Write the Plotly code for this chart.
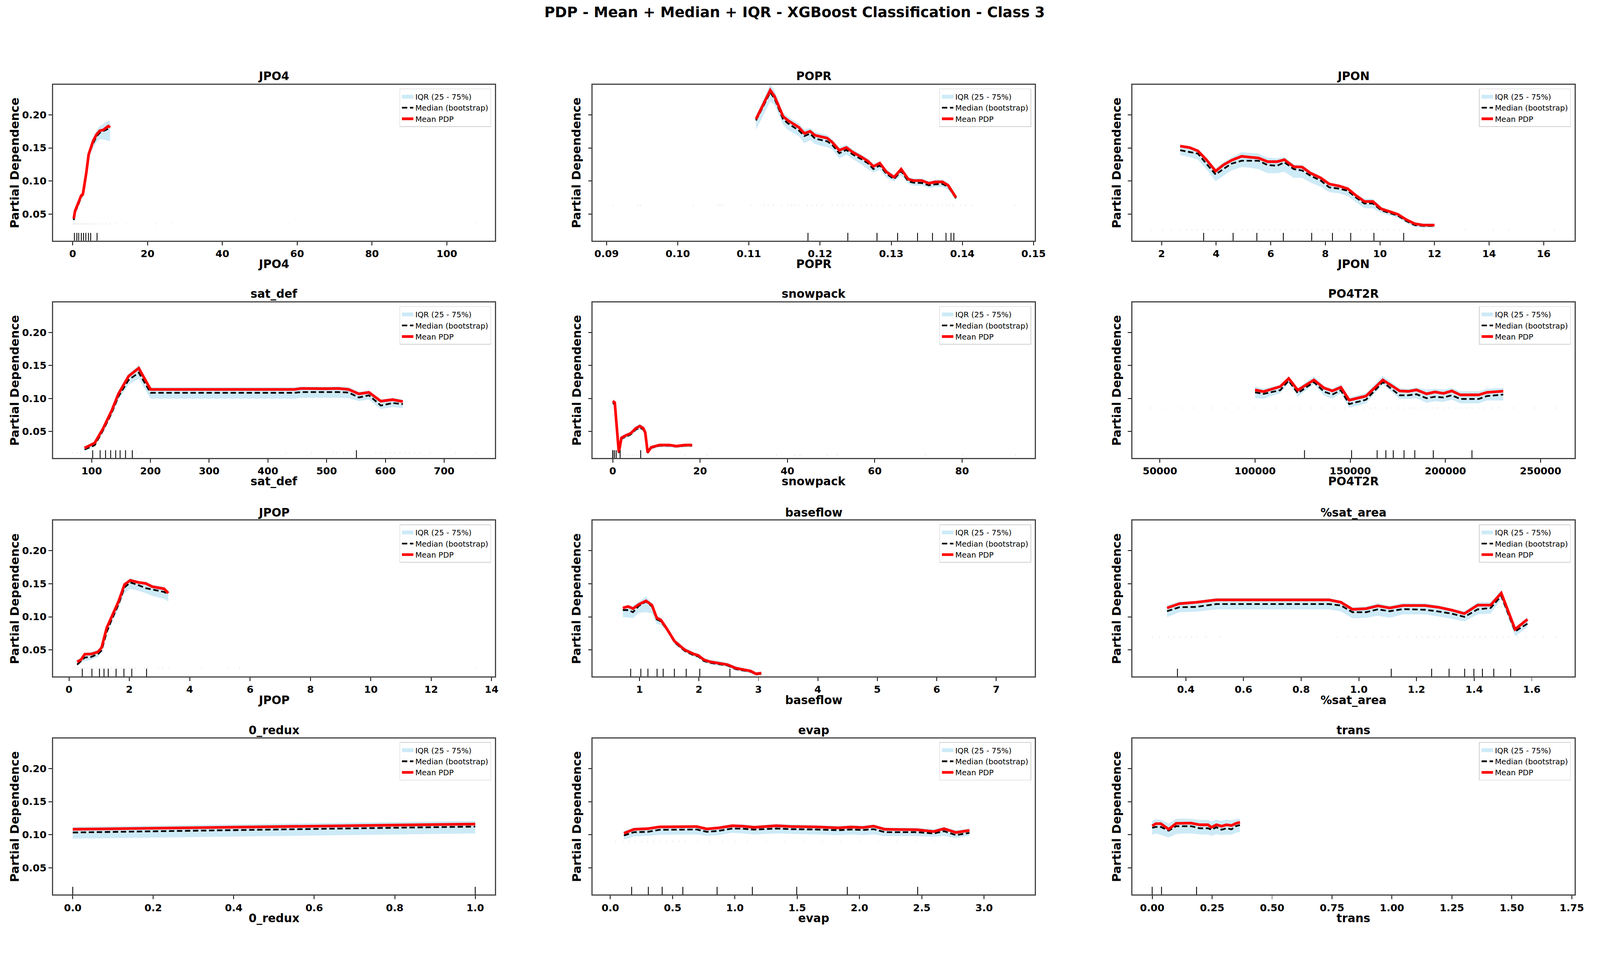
import plotly.graph_objects as go

# ---------------- data ----------------
FEATURES = ["JPO4", "POPR", "JPON", "sat_def", "snowpack", "PO4T2R",
            "JPOP", "baseflow", "%sat_area", "0_redux", "evap", "trans"]

Y_TICKS = [0.05, 0.10, 0.15, 0.20]
Y_TICK_LABELS = ["0.05", "0.10", "0.15", "0.20"]

# JPO4
JPO4_x = [0.27, 0.63, 1.36, 2.26, 2.71, 3.2, 3.62, 4.25, 4.8, 5.43, 6.33, 7.24, 8.14, 8.78, 9.5, 10.0]
JPO4_mean = [0.043, 0.055, 0.065, 0.078, 0.080, 0.095, 0.112, 0.140, 0.151, 0.160, 0.170, 0.176, 0.177, 0.180, 0.183, 0.181]
JPO4_median = [0.041, 0.053, 0.062, 0.076, 0.079, 0.093, 0.110, 0.138, 0.149, 0.157, 0.167, 0.173, 0.175, 0.177, 0.179, 0.178]
JPO4_q25 = [0.038, 0.050, 0.059, 0.073, 0.076, 0.090, 0.106, 0.132, 0.142, 0.149, 0.158, 0.163, 0.163, 0.162, 0.161, 0.160]
JPO4_q75 = [0.046, 0.058, 0.068, 0.081, 0.084, 0.098, 0.115, 0.145, 0.157, 0.166, 0.176, 0.183, 0.186, 0.189, 0.191, 0.190]
JPO4_deciles = [0.45, 1.1, 1.6, 2.3, 2.9, 3.5, 4.2, 4.8, 6.5]
JPO4_rug = [0.1, 0.3, 0.5, 0.8, 1.0, 1.3, 1.6, 1.9, 2.2, 2.5, 2.9, 3.3, 3.7, 4.1, 4.6, 5.1, 5.6, 6.2, 6.9, 7.7,
            8.8, 9.95, 11.8, 14.2, 22.2, 26.4, 57.6, 107.6]
JPO4_rug_y = 0.0352
JPO4_ticks = [0, 20, 40, 60, 80, 100]
JPO4_ticklabels = ["0", "20", "40", "60", "80", "100"]

# POPR
POPR_x = [0.1110, 0.1130, 0.1136, 0.1148, 0.1155, 0.1170, 0.1178, 0.1186, 0.1193, 0.1202, 0.1210, 0.1217, 0.1227,
          0.1237, 0.1246, 0.1258, 0.1267, 0.1275, 0.1284, 0.1293, 0.1304, 0.1314, 0.1324, 0.1331, 0.1343, 0.1353,
          0.1362, 0.1372, 0.1380, 0.1391]
POPR_mean = [0.1935, 0.2373, 0.2280, 0.1976, 0.1914, 0.1812, 0.1720, 0.1751, 0.1690, 0.1669, 0.1649, 0.1588, 0.1465,
             0.1506, 0.1435, 0.1363, 0.1302, 0.1220, 0.1271, 0.1139, 0.1057, 0.1180, 0.1027, 0.1006, 0.1006, 0.0965,
             0.0986, 0.0986, 0.0935, 0.0751]
POPR_median = [0.1915, 0.2340, 0.2245, 0.1935, 0.1870, 0.1765, 0.1680, 0.1715, 0.1640, 0.1620, 0.1600, 0.1545, 0.1420,
               0.1470, 0.1400, 0.1330, 0.1270, 0.1180, 0.1235, 0.1110, 0.1030, 0.1150, 0.0995, 0.0975, 0.0970, 0.0935,
               0.0950, 0.0955, 0.0915, 0.0740]
POPR_q25 = [0.1775, 0.2200, 0.2150, 0.1850, 0.1770, 0.1680, 0.1570, 0.1620, 0.1560, 0.1530, 0.1510, 0.1480, 0.1340,
            0.1400, 0.1330, 0.1250, 0.1180, 0.1130, 0.1170, 0.1050, 0.0990, 0.1080, 0.0960, 0.0930, 0.0930, 0.0890,
            0.0910, 0.0910, 0.0870, 0.0700]
POPR_q75 = [0.1990, 0.2460, 0.2370, 0.2030, 0.1970, 0.1870, 0.1780, 0.1800, 0.1740, 0.1720, 0.1700, 0.1630, 0.1510,
            0.1550, 0.1480, 0.1400, 0.1340, 0.1260, 0.1300, 0.1175, 0.1090, 0.1210, 0.1060, 0.1040, 0.1040, 0.1000,
            0.1020, 0.1020, 0.0970, 0.0790]
POPR_deciles = [0.1183, 0.1239, 0.1280, 0.1309, 0.1337, 0.1358, 0.1377, 0.1384, 0.1388]
POPR_rug = [0.0909, 0.0944, 0.0948, 0.1022, 0.1058, 0.1062, 0.1104, 0.1121, 0.1127, 0.1134, 0.1146, 0.1155, 0.1160,
            0.1165, 0.1170, 0.1182, 0.1188, 0.1195, 0.1203, 0.1217, 0.1225, 0.1232, 0.1240, 0.1246, 0.1258, 0.1265,
            0.1272, 0.1280, 0.1288, 0.1298, 0.1312, 0.1320, 0.1328, 0.1335, 0.1342, 0.1350, 0.1358, 0.1365, 0.1372,
            0.1378, 0.1382, 0.1386, 0.1388, 0.1398, 0.1405, 0.1414, 0.1474]
POPR_rug_y = 0.0633
POPR_ticks = [0.09, 0.10, 0.11, 0.12, 0.13, 0.14, 0.15]
POPR_ticklabels = ["0.09", "0.10", "0.11", "0.12", "0.13", "0.14", "0.15"]

# JPON
JPON_x = [2.68, 3.02, 3.33, 3.64, 3.98, 4.26, 4.56, 4.93, 5.24, 5.55, 5.88, 6.23, 6.50, 6.84, 7.15, 7.46, 7.83,
          8.14, 8.51, 8.82, 9.12, 9.43, 9.74, 10.05, 10.36, 10.66, 10.97, 11.28, 11.59, 12.0]
JPON_mean = [0.1527, 0.1506, 0.1455, 0.1322, 0.1149, 0.1241, 0.1312, 0.1373, 0.1359, 0.1347, 0.1292, 0.1292, 0.1322,
             0.1216, 0.1210, 0.1118, 0.1047, 0.0955, 0.0924, 0.0884, 0.0782, 0.0690, 0.0690, 0.0578, 0.0537, 0.0496,
             0.0414, 0.0353, 0.0333, 0.0333]
JPON_median = [0.1465, 0.1440, 0.1414, 0.1261, 0.1098, 0.1180, 0.1261, 0.1306, 0.1306, 0.1306, 0.1241, 0.1231, 0.1282,
               0.1180, 0.1159, 0.1078, 0.1006, 0.0904, 0.0884, 0.0853, 0.0751, 0.0659, 0.0659, 0.0557, 0.0516, 0.0476,
               0.0394, 0.0333, 0.0322, 0.0322]
JPON_q25 = [0.1394, 0.1363, 0.1322, 0.1180, 0.0996, 0.1078, 0.1159, 0.1210, 0.1200, 0.1180, 0.1118, 0.1118, 0.1139,
            0.1047, 0.1047, 0.0976, 0.0914, 0.0833, 0.0812, 0.0771, 0.0680, 0.0588, 0.0588, 0.0516, 0.0476, 0.0445,
            0.0363, 0.0302, 0.0292, 0.0298]
JPON_q75 = [0.1547, 0.1527, 0.1476, 0.1353, 0.1190, 0.1282, 0.1353, 0.1435, 0.1424, 0.1414, 0.1353, 0.1343, 0.1363,
            0.1251, 0.1241, 0.1149, 0.1067, 0.0976, 0.0945, 0.0904, 0.0802, 0.0731, 0.0731, 0.0608, 0.0557, 0.0506,
            0.0435, 0.0373, 0.0359, 0.0359]
JPON_deciles = [3.54, 4.62, 5.49, 6.46, 7.50, 8.26, 8.93, 9.78, 10.87]
JPON_rug = [1.64, 2.04, 2.35, 2.65, 2.92, 3.1, 3.3, 3.5, 3.7, 3.9, 4.1, 4.26, 4.75, 4.95, 5.15, 5.35, 5.55, 5.75,
            5.95, 6.15, 6.35, 6.55, 6.8, 7.0, 7.3, 7.5, 7.7, 7.9, 8.1, 8.3, 8.5, 8.7, 8.9, 9.1, 9.3, 9.5, 9.7,
            9.9, 10.1, 10.3, 10.5, 10.73, 11.34, 11.6, 11.83, 13.13, 14.15, 14.73, 16.39]
JPON_rug_y = 0.0261
JPON_ticks = [2, 4, 6, 8, 10, 12, 14, 16]
JPON_ticklabels = ["2", "4", "6", "8", "10", "12", "14", "16"]

# sat_def
SATDEF_x = [87.9, 105.2, 119.6, 134.0, 145.5, 162.8, 180.1, 200.3, 445.2, 456.8, 497.1, 520.2, 537.5, 554.8,
            572.0, 592.2, 612.4, 629.7]
SATDEF_mean = [0.0249, 0.0327, 0.0549, 0.0815, 0.1070, 0.1337, 0.1459, 0.1137, 0.1137, 0.1152, 0.1148, 0.1152,
               0.1137, 0.1070, 0.1093, 0.0959, 0.0982, 0.0953]
SATDEF_median = [0.0227, 0.0294, 0.0520, 0.0780, 0.1030, 0.1280, 0.1392, 0.1086, 0.1086, 0.1097, 0.1097, 0.1097,
                 0.1090, 0.1015, 0.1048, 0.0893, 0.0931, 0.0915]
SATDEF_q25 = [0.0205, 0.0270, 0.0490, 0.0740, 0.0980, 0.1210, 0.1300, 0.0997, 0.0997, 0.1010, 0.1010, 0.1010,
              0.1005, 0.0960, 0.0985, 0.0840, 0.0870, 0.0855]
SATDEF_q75 = [0.0270, 0.0345, 0.0570, 0.0840, 0.1100, 0.1375, 0.1510, 0.1170, 0.1170, 0.1180, 0.1180, 0.1185,
              0.1175, 0.1100, 0.1120, 0.0985, 0.1010, 0.0985]
SATDEF_deciles = [101.7, 114.4, 123.6, 132.3, 140.9, 148.4, 157.6, 169.2, 550.7]
SATDEF_rug = [67.7, 75, 82, 90, 98, 105, 112, 120, 128, 136, 144, 152, 160, 168, 176, 185.9, 430.8, 474.1, 511.5,
              517.3, 528.8, 537, 546.1, 583.6, 592, 600, 608, 616, 625, 633, 641, 650, 658.5, 675.8, 719, 753.6]
SATDEF_rug_y = 0.0176
SATDEF_ticks = [100, 200, 300, 400, 500, 600, 700]
SATDEF_ticklabels = ["100", "200", "300", "400", "500", "600", "700"]

# snowpack
SNOW_x = [0.0, 0.47, 1.4, 2.0, 2.95, 4.1, 5.3, 6.2, 7.0, 7.45, 8.0, 8.8, 10.7, 13.0, 14.6, 16.5, 18.2]
SNOW_mean = [0.0960, 0.0937, 0.0183, 0.0405, 0.0438, 0.0471, 0.0549, 0.0582, 0.0549, 0.0482, 0.0183, 0.0260,
             0.0294, 0.0294, 0.0278, 0.0294, 0.0294]
SNOW_median = [0.0930, 0.0915, 0.0175, 0.0390, 0.0420, 0.0455, 0.0530, 0.0560, 0.0530, 0.0470, 0.0175, 0.0250,
               0.0285, 0.0285, 0.0270, 0.0285, 0.0285]
SNOW_q25 = [0.0890, 0.0880, 0.0160, 0.0360, 0.0395, 0.0430, 0.0500, 0.0530, 0.0505, 0.0450, 0.0160, 0.0235,
            0.0262, 0.0262, 0.0250, 0.0262, 0.0262]
SNOW_q75 = [0.0990, 0.0975, 0.0200, 0.0430, 0.0465, 0.0500, 0.0580, 0.0620, 0.0580, 0.0505, 0.0200, 0.0285,
            0.0315, 0.0315, 0.0300, 0.0315, 0.0318]
SNOW_deciles = [0.0, 0.05, 0.4, 0.8, 1.7, 6.4]
SNOW_rug = [0, 0.5, 1, 1.5, 2, 2.5, 3, 3.5, 4, 4.5, 5, 5.5, 6, 6.8, 16.5, 21.6, 37.5, 41.7, 42.9, 49.1, 51.4,
            71.6, 80.1, 92.2]
SNOW_rug_y = 0.0143
SNOW_ticks = [0, 20, 40, 60, 80]
SNOW_ticklabels = ["0", "20", "40", "60", "80"]

# PO4T2R
PO4_x = [100000, 104420, 113250, 117670, 122440, 130920, 136220, 140640, 145060, 149470, 158300, 167140, 175970,
         180390, 184810, 190110, 194530, 198950, 203370, 207790, 217490, 221910, 230390]
PO4_mean = [0.1130, 0.1104, 0.1181, 0.1303, 0.1126, 0.1281, 0.1159, 0.1115, 0.1170, 0.0975, 0.1037, 0.1281, 0.1115,
            0.1108, 0.1130, 0.1070, 0.1099, 0.1077, 0.1115, 0.1055, 0.1055, 0.1093, 0.1110]
PO4_median = [0.1093, 0.1070, 0.1126, 0.1270, 0.1081, 0.1248, 0.1104, 0.1059, 0.1126, 0.0915, 0.0982, 0.1248, 0.1048,
              0.1048, 0.1064, 0.1004, 0.1026, 0.1015, 0.1048, 0.0993, 0.0993, 0.1037, 0.1059]
PO4_q25 = [0.1004, 0.0997, 0.1081, 0.1237, 0.1026, 0.1215, 0.1048, 0.0993, 0.1081, 0.0860, 0.0926, 0.1215, 0.0993,
           0.0993, 0.1004, 0.0937, 0.0959, 0.0948, 0.0982, 0.0926, 0.0926, 0.0970, 0.0970]
PO4_q75 = [0.1181, 0.1148, 0.1203, 0.1337, 0.1159, 0.1337, 0.1188, 0.1148, 0.1215, 0.1015, 0.1081, 0.1343, 0.1152,
           0.1148, 0.1166, 0.1137, 0.1148, 0.1137, 0.1159, 0.1108, 0.1108, 0.1148, 0.1159]
PO4_deciles = [125972, 150706, 164134, 168728, 172615, 178269, 183922, 193640, 213958]
PO4_rug = [45230, 53000, 61500, 68000, 77000, 84500, 91000, 99500, 106000, 111000, 118500, 124000, 129500, 135000,
           141500, 147000, 153500, 157400, 160500, 163000, 166500, 169000, 171500, 175000, 178000, 181500, 184000,
           187500, 190000, 193500, 196000, 199500, 202000, 205500, 208000, 211500, 214000, 217500, 220000, 224500,
           228100, 236000, 247000, 258130]
PO4_rug_y = 0.0855
PO4_ticks = [50000, 100000, 150000, 200000, 250000]
PO4_ticklabels = ["50000", "100000", "150000", "200000", "250000"]

# JPOP
JPOP_x = [0.27, 0.40, 0.52, 0.74, 0.96, 1.08, 1.25, 1.41, 1.64, 1.84, 2.03, 2.31, 2.54, 2.76, 3.04, 3.15, 3.29]
JPOP_mean = [0.0320, 0.0352, 0.0434, 0.0438, 0.0470, 0.0534, 0.0834, 0.0995, 0.1231, 0.1488, 0.1552, 0.1520,
             0.1505, 0.1456, 0.1439, 0.1424, 0.1359]
JPOP_median = [0.0277, 0.0330, 0.0384, 0.0395, 0.0438, 0.0491, 0.0770, 0.0952, 0.1188, 0.1445, 0.1520, 0.1477,
               0.1434, 0.1413, 0.1391, 0.1376, 0.1342]
JPOP_q25 = [0.0256, 0.0309, 0.0331, 0.0352, 0.0395, 0.0459, 0.0738, 0.0909, 0.1124, 0.1359, 0.1424, 0.1391,
            0.1359, 0.1316, 0.1284, 0.1274, 0.1231]
JPOP_q75 = [0.0352, 0.0384, 0.0459, 0.0470, 0.0502, 0.0566, 0.0877, 0.1038, 0.1274, 0.1520, 0.1584, 0.1541,
            0.1531, 0.1484, 0.1466, 0.1449, 0.1391]
JPOP_deciles = [0.44, 0.76, 1.01, 1.16, 1.30, 1.56, 1.82, 2.08, 2.57]
JPOP_rug = [0.12, 0.2, 0.3, 0.4, 0.5, 0.6, 0.7, 0.8, 0.9, 1.0, 1.1, 1.2, 1.3, 1.4, 1.5, 1.6, 1.7, 1.8, 1.9, 2.0,
            2.1, 2.2, 2.5, 2.6, 2.95, 3.1, 3.32, 4.39, 5.28, 5.65, 13.47]
JPOP_rug_y = 0.0228
JPOP_ticks = [0, 2, 4, 6, 8, 10, 12, 14]
JPOP_ticklabels = ["0", "2", "4", "6", "8", "10", "12", "14"]

# baseflow
BASE_x = [0.72, 0.81, 0.89, 0.99, 1.11, 1.21, 1.29, 1.36, 1.45, 1.59, 1.76, 1.91, 1.99, 2.08, 2.19, 2.36, 2.48,
          2.62, 2.73, 2.87, 2.96, 3.05]
BASE_mean = [0.1134, 0.1156, 0.1124, 0.1188, 0.1241, 0.1177, 0.0984, 0.0952, 0.0834, 0.0631, 0.0502, 0.0438,
             0.0416, 0.0352, 0.0320, 0.0299, 0.0277, 0.0224, 0.0202, 0.0181, 0.0138, 0.0149]
BASE_median = [0.1102, 0.1102, 0.1070, 0.1166, 0.1231, 0.1156, 0.0963, 0.0931, 0.0824, 0.0615, 0.0485, 0.0420,
               0.0400, 0.0335, 0.0305, 0.0285, 0.0265, 0.0210, 0.0190, 0.0170, 0.0128, 0.0140]
BASE_q25 = [0.0995, 0.0990, 0.0980, 0.1060, 0.1070, 0.1050, 0.0890, 0.0880, 0.0790, 0.0590, 0.0460, 0.0400,
            0.0375, 0.0310, 0.0280, 0.0262, 0.0245, 0.0190, 0.0170, 0.0150, 0.0110, 0.0120]
BASE_q75 = [0.1160, 0.1180, 0.1165, 0.1230, 0.1306, 0.1210, 0.1020, 0.0990, 0.0870, 0.0665, 0.0535, 0.0470,
            0.0445, 0.0380, 0.0350, 0.0330, 0.0305, 0.0255, 0.0230, 0.0205, 0.0165, 0.0175]
BASE_deciles = [0.852, 1.023, 1.142, 1.296, 1.399, 1.587, 1.786, 2.014, 2.521]
BASE_rug = []
BASE_rug_y = 0.01
BASE_ticks = [1, 2, 3, 4, 5, 6, 7]
BASE_ticklabels = ["1", "2", "3", "4", "5", "6", "7"]

# %sat_area
SATA_x = [0.335, 0.378, 0.436, 0.506, 0.897, 0.938, 0.978, 1.025, 1.066, 1.107, 1.153, 1.229, 1.276, 1.322, 1.366,
          1.412, 1.457, 1.494, 1.542, 1.585]
SATA_mean = [0.1134, 0.1199, 0.1220, 0.1257, 0.1257, 0.1220, 0.1113, 0.1124, 0.1166, 0.1134, 0.1171, 0.1171,
             0.1145, 0.1102, 0.1049, 0.1177, 0.1177, 0.1359, 0.0812, 0.0962]
SATA_median = [0.1085, 0.1145, 0.1150, 0.1193, 0.1193, 0.1171, 0.1070, 0.1070, 0.1113, 0.1085, 0.1117, 0.1107,
               0.1081, 0.1049, 0.0999, 0.1113, 0.1134, 0.1316, 0.0780, 0.0898]
SATA_q25 = [0.0995, 0.1070, 0.1077, 0.1113, 0.1113, 0.1081, 0.0978, 0.0985, 0.1017, 0.0985, 0.1038, 0.1038,
            0.1006, 0.0970, 0.0931, 0.1038, 0.1049, 0.1263, 0.0707, 0.0846]
SATA_q75 = [0.1177, 0.1231, 0.1241, 0.1284, 0.1284, 0.1241, 0.1145, 0.1156, 0.1205, 0.1166, 0.1209, 0.1205,
            0.1171, 0.1124, 0.1081, 0.1220, 0.1220, 0.1402, 0.0846, 0.0995]
SATA_deciles = [0.371, 1.1125, 1.2525, 1.313, 1.367, 1.399, 1.4286, 1.468, 1.5265]
SATA_rug = [0.2845, 0.31, 0.34, 0.36, 0.38, 0.40, 0.42, 0.44, 0.47, 0.5178, 0.926, 0.96, 0.99, 1.02, 1.05, 1.08,
            1.1, 1.14, 1.17, 1.2, 1.22, 1.24, 1.26, 1.28, 1.3, 1.32, 1.34, 1.36, 1.38, 1.4, 1.42, 1.44, 1.46, 1.48,
            1.5, 1.52, 1.55, 1.58, 1.61, 1.64, 1.684]
SATA_rug_y = 0.0695
SATA_ticks = [0.4, 0.6, 0.8, 1.0, 1.2, 1.4, 1.6]
SATA_ticklabels = ["0.4", "0.6", "0.8", "1.0", "1.2", "1.4", "1.6"]

# 0_redux
REDUX_x = [0.0, 1.0]
REDUX_mean = [0.1083, 0.1162]
REDUX_median = [0.1035, 0.1124]
REDUX_q25 = [0.0943, 0.1020]
REDUX_q75 = [0.1120, 0.1210]
REDUX_deciles = [0.0, 1.0]
REDUX_rug = []
REDUX_rug_y = 0.01
REDUX_ticks = [0.0, 0.2, 0.4, 0.6, 0.8, 1.0]
REDUX_ticklabels = ["0.0", "0.2", "0.4", "0.6", "0.8", "1.0"]

# evap
EVAP_x = [0.109, 0.19, 0.30, 0.394, 0.694, 0.775, 0.870, 0.979, 1.061, 1.156, 1.333, 1.455, 1.645, 1.836, 1.931,
          2.026, 2.113, 2.203, 2.461, 2.597, 2.679, 2.774, 2.883]
EVAP_mean = [0.1024, 0.1083, 0.1092, 0.1119, 0.1124, 0.1088, 0.1105, 0.1136, 0.1130, 0.1113, 0.1136, 0.1124,
             0.1119, 0.1105, 0.1117, 0.1109, 0.1130, 0.1083, 0.1077, 0.1049, 0.1092, 0.1035, 0.1066]
EVAP_median = [0.0990, 0.1040, 0.1045, 0.1075, 0.1080, 0.1045, 0.1060, 0.1095, 0.1092, 0.1078, 0.1095, 0.1085,
               0.1080, 0.1070, 0.1080, 0.1072, 0.1085, 0.1040, 0.1040, 0.1020, 0.1055, 0.0995, 0.1030]
EVAP_q25 = [0.0930, 0.0975, 0.0985, 0.1000, 0.1005, 0.0985, 0.0995, 0.1030, 0.1020, 0.1005, 0.1020, 0.1015,
            0.1005, 0.0995, 0.1005, 0.0995, 0.1005, 0.0980, 0.0980, 0.0970, 0.0985, 0.0950, 0.0985]
EVAP_q75 = [0.1060, 0.1110, 0.1115, 0.1140, 0.1145, 0.1110, 0.1130, 0.1160, 0.1160, 0.1140, 0.1165, 0.1155,
            0.1145, 0.1135, 0.1145, 0.1140, 0.1155, 0.1110, 0.1105, 0.1085, 0.1120, 0.1070, 0.1095]
EVAP_deciles = [0.171, 0.305, 0.416, 0.582, 0.857, 1.140, 1.496, 1.902, 2.467]
EVAP_rug = [0.04, 0.1, 0.15, 0.2, 0.25, 0.3, 0.35, 0.4, 0.45, 0.5, 0.55, 0.6, 0.7, 0.8, 0.9, 1.0, 1.1, 1.25, 1.4,
            1.55, 1.7, 1.85, 2.0, 2.15, 2.3, 2.45, 2.6, 2.73]
EVAP_rug_y = 0.0897
EVAP_ticks = [0.0, 0.5, 1.0, 1.5, 2.0, 2.5, 3.0]
EVAP_ticklabels = ["0.0", "0.5", "1.0", "1.5", "2.0", "2.5", "3.0"]

# trans
TRANS_x = [0.0, 0.015, 0.036, 0.069, 0.10, 0.128, 0.163, 0.198, 0.233, 0.247, 0.268, 0.289, 0.31, 0.331, 0.349, 0.366]
TRANS_mean = [0.1134, 0.1168, 0.1168, 0.1083, 0.1172, 0.1177, 0.1177, 0.1151, 0.1151, 0.1113, 0.1151, 0.1130,
              0.1151, 0.1140, 0.1172, 0.1189]
TRANS_median = [0.1105, 0.1119, 0.1119, 0.1062, 0.1130, 0.1130, 0.1130, 0.1098, 0.1098, 0.1077, 0.1113, 0.1077,
                0.1098, 0.1083, 0.1130, 0.1147]
TRANS_q25 = [0.1000, 0.1020, 0.1000, 0.0960, 0.1010, 0.1020, 0.1020, 0.1005, 0.1005, 0.0985, 0.1010, 0.0995,
             0.1005, 0.1000, 0.1030, 0.1040]
TRANS_q75 = [0.1210, 0.1235, 0.1225, 0.1170, 0.1240, 0.1245, 0.1240, 0.1225, 0.1225, 0.1200, 0.1230, 0.1210,
             0.1230, 0.1220, 0.1235, 0.1245]
TRANS_deciles = [0.0, 0.039, 0.185]
TRANS_rug = []
TRANS_rug_y = 0.01
TRANS_ticks = [0.00, 0.25, 0.50, 0.75, 1.00, 1.25, 1.50, 1.75]
TRANS_ticklabels = ["0.00", "0.25", "0.50", "0.75", "1.00", "1.25", "1.50", "1.75"]

PANELS = [
    (JPO4_x, JPO4_mean, JPO4_median, JPO4_q25, JPO4_q75, JPO4_deciles, JPO4_rug, JPO4_rug_y, JPO4_ticks, JPO4_ticklabels),
    (POPR_x, POPR_mean, POPR_median, POPR_q25, POPR_q75, POPR_deciles, POPR_rug, POPR_rug_y, POPR_ticks, POPR_ticklabels),
    (JPON_x, JPON_mean, JPON_median, JPON_q25, JPON_q75, JPON_deciles, JPON_rug, JPON_rug_y, JPON_ticks, JPON_ticklabels),
    (SATDEF_x, SATDEF_mean, SATDEF_median, SATDEF_q25, SATDEF_q75, SATDEF_deciles, SATDEF_rug, SATDEF_rug_y, SATDEF_ticks, SATDEF_ticklabels),
    (SNOW_x, SNOW_mean, SNOW_median, SNOW_q25, SNOW_q75, SNOW_deciles, SNOW_rug, SNOW_rug_y, SNOW_ticks, SNOW_ticklabels),
    (PO4_x, PO4_mean, PO4_median, PO4_q25, PO4_q75, PO4_deciles, PO4_rug, PO4_rug_y, PO4_ticks, PO4_ticklabels),
    (JPOP_x, JPOP_mean, JPOP_median, JPOP_q25, JPOP_q75, JPOP_deciles, JPOP_rug, JPOP_rug_y, JPOP_ticks, JPOP_ticklabels),
    (BASE_x, BASE_mean, BASE_median, BASE_q25, BASE_q75, BASE_deciles, BASE_rug, BASE_rug_y, BASE_ticks, BASE_ticklabels),
    (SATA_x, SATA_mean, SATA_median, SATA_q25, SATA_q75, SATA_deciles, SATA_rug, SATA_rug_y, SATA_ticks, SATA_ticklabels),
    (REDUX_x, REDUX_mean, REDUX_median, REDUX_q25, REDUX_q75, REDUX_deciles, REDUX_rug, REDUX_rug_y, REDUX_ticks, REDUX_ticklabels),
    (EVAP_x, EVAP_mean, EVAP_median, EVAP_q25, EVAP_q75, EVAP_deciles, EVAP_rug, EVAP_rug_y, EVAP_ticks, EVAP_ticklabels),
    (TRANS_x, TRANS_mean, TRANS_median, TRANS_q25, TRANS_q75, TRANS_deciles, TRANS_rug, TRANS_rug_y, TRANS_ticks, TRANS_ticklabels),
]

# ---------------- layout spec ----------------
W, H = 4190, 2444
COL_X = [(140, 1305), (1563, 2729), (2986, 4152)]
ROW_Y = [(222, 630), (792, 1199), (1363, 1771), (1933, 2342)]
YLABEL_X = [38, 1520, 2944]
Y_RANGE = [0.0098, 0.2454]
X_RANGES = [
    [-5.25, 112.85], [0.08805, 0.15019], [0.928, 17.13],
    [34.3, 786.4], [-4.58, 96.66], [35512, 267845],
    [-0.527, 14.11], [0.2137, 7.65], [0.2146, 1.748],
    [-0.0488, 1.0488], [-0.1414, 3.408], [-0.0827, 1.7613],
]
FONT = "DejaVu Sans"
BAND_COLOR = "rgba(135,206,235,0.42)"

fig = go.Figure()
annotations = []
shapes = []
layout_axes = {}

for k, (name, panel) in enumerate(zip(FEATURES, PANELS), start=1):
    xs, mean, median, q25, q75, deciles, rug, rug_y, ticks, ticklabels = panel
    r, c = (k - 1) // 3, (k - 1) % 3
    x0, x1 = COL_X[c]
    y0, y1 = ROW_Y[r]
    xa = "x" if k == 1 else f"x{k}"
    ya = "y" if k == 1 else f"y{k}"
    lg = "legend" if k == 1 else f"legend{k}"

    # faint data rug
    if rug:
        fig.add_trace(go.Scatter(
            x=rug, y=[rug_y] * len(rug), mode="markers", xaxis=xa, yaxis=ya,
            marker=dict(symbol="line-ns", size=4, line=dict(width=1.2, color="rgba(150,150,150,0.28)")),
            showlegend=False, hoverinfo="skip", legend=lg))
    # IQR band
    fig.add_trace(go.Scatter(x=xs, y=q25, mode="lines", line=dict(width=0, color=BAND_COLOR),
                             xaxis=xa, yaxis=ya, showlegend=False, hoverinfo="skip", legend=lg))
    fig.add_trace(go.Scatter(x=xs, y=q75, mode="lines", line=dict(width=0, color=BAND_COLOR),
                             fill="tonexty", fillcolor=BAND_COLOR, showlegend=False, hoverinfo="skip",
                             xaxis=xa, yaxis=ya, legend=lg))
    # legend patch for the band
    fig.add_trace(go.Scatter(x=[None], y=[None], mode="lines", name="IQR (25 - 75%)",
                             line=dict(color=BAND_COLOR, width=17),
                             xaxis=xa, yaxis=ya, legend=lg))
    fig.add_trace(go.Scatter(x=xs, y=median, mode="lines", name="Median (bootstrap)",
                             line=dict(color="black", width=4.5, dash="14px,7px"),
                             xaxis=xa, yaxis=ya, legend=lg))
    fig.add_trace(go.Scatter(x=xs, y=mean, mode="lines", name="Mean PDP",
                             line=dict(color="red", width=7),
                             xaxis=xa, yaxis=ya, legend=lg))

    # deciles rug (bottom, 5% of axes height)
    for d in deciles:
        shapes.append(dict(type="line", xref=xa, yref=f"{ya} domain", x0=d, x1=d, y0=0, y1=0.05,
                           line=dict(color="black", width=2.2)))

    xkey = "xaxis" if k == 1 else f"xaxis{k}"
    ykey = "yaxis" if k == 1 else f"yaxis{k}"
    layout_axes[xkey] = dict(
        domain=[x0 / W, x1 / W], anchor=ya, range=X_RANGES[k - 1],
        tickmode="array", tickvals=ticks, ticktext=ticklabels,
        showline=True, mirror=True, linecolor="#444444", linewidth=3,
        ticks="outside", ticklen=9, tickwidth=2, tickcolor="black",
        showgrid=False, zeroline=False,
        tickfont=dict(family=FONT, size=26, color="black", weight="bold"))
    layout_axes[ykey] = dict(
        domain=[1 - y1 / H, 1 - y0 / H], anchor=xa, range=Y_RANGE,
        tickmode="array", tickvals=Y_TICKS, ticktext=Y_TICK_LABELS,
        showticklabels=(c == 0),
        showline=True, mirror=True, linecolor="#444444", linewidth=3,
        ticks="outside", ticklen=9, tickwidth=2, tickcolor="black",
        showgrid=False, zeroline=False,
        tickfont=dict(family=FONT, size=26, color="black", weight="bold"))

    layout_axes[lg] = dict(
        x=(x1 - 10) / W, y=1 - (y0 + 10) / H, xanchor="right", yanchor="top",
        xref="paper", yref="paper",
        bgcolor="rgba(255,255,255,0.85)", bordercolor="#d0d0d0", borderwidth=1.5,
        font=dict(family=FONT, size=20, color="black"), traceorder="normal", tracegroupgap=0)

    # titles
    cx = (x0 + x1) / 2
    annotations.append(dict(text=name, x=cx / W, y=1 - (y0 - 22) / H, xref="paper", yref="paper",
                            showarrow=False, xanchor="center", yanchor="middle",
                            font=dict(family=FONT, size=30, color="black", weight="bold")))
    annotations.append(dict(text=name, x=cx / W, y=1 - (y1 + 61) / H, xref="paper", yref="paper",
                            showarrow=False, xanchor="center", yanchor="middle",
                            font=dict(family=FONT, size=30, color="black", weight="bold")))
    annotations.append(dict(text="Partial Dependence", x=YLABEL_X[c] / W, y=1 - ((y0 + y1) / 2) / H,
                            xref="paper", yref="paper", showarrow=False, textangle=-90,
                            xanchor="center", yanchor="middle",
                            font=dict(family=FONT, size=31, color="black", weight="bold")))

annotations.append(dict(text="PDP - Mean + Median + IQR - XGBoost Classification - Class 3",
                        x=0.5, y=1 - 32 / H, xref="paper", yref="paper", showarrow=False,
                        xanchor="center", yanchor="middle",
                        font=dict(family=FONT, size=38, color="black", weight="bold")))

fig.update_layout(
    width=W, height=H, autosize=False,
    margin=dict(l=0, r=0, t=0, b=0),
    paper_bgcolor="white", plot_bgcolor="white",
    annotations=annotations, shapes=shapes,
    **layout_axes)

# fit the fixed-size figure into whatever viewport the page is shown in
FIT_JS = """
var gd = document.getElementById('{plot_id}');
document.documentElement.style.overflow = 'hidden';
document.body.style.margin = '0';
document.body.style.overflow = 'hidden';
var s = Math.min(window.innerWidth / %d, window.innerHeight / %d);
gd.style.transformOrigin = '0 0';
gd.style.transform = 'scale(' + s + ')';
""" % (W, H)

fig.write_html("out.html", post_script=FIT_JS, config={"displayModeBar": False})
